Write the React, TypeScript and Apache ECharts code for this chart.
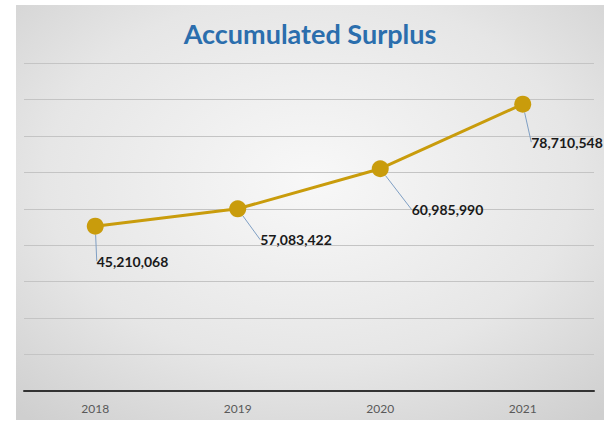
import React, { useEffect, useRef } from "react";
import * as echarts from "echarts";

const years = ["2018", "2019", "2020", "2021"];
// plotted positions (2019 point sits on the 50M gridline)
const plotted = [45210068, 50000000, 60985990, 78710548];
const labelTexts = ["45,210,068", "57,083,422", "60,985,990", "78,710,548"];
const labelShift = [
  [-12, 35],
  [9, 31],
  [18, 41],
  [-5, 38],
];

export default function App() {
  const ref = useRef<HTMLDivElement>(null);
  useEffect(() => {
    document.body.style.margin = "0";
    const chart = echarts.init(ref.current!, null, { renderer: "svg" });
    chart.setOption({
      animation: false,
      backgroundColor: new echarts.graphic.RadialGradient(0.5, 0.42, 0.75, [
        { offset: 0, color: "#f8f8f8" },
        { offset: 0.6, color: "#e6e6e6" },
        { offset: 1, color: "#cfcfcf" },
      ]),
      title: {
        text: "Accumulated Surplus",
        left: "center",
        top: 10,
        textStyle: {
          fontFamily: "Lato",
          fontWeight: "bold",
          fontSize: 27,
          color: "#2b6ead",
        },
      },
      grid: { left: 8, right: 10, top: 58, bottom: 29 },
      xAxis: {
        type: "category",
        data: years,
        boundaryGap: true,
        axisLine: { lineStyle: { color: "#333333", width: 2 } },
        axisTick: { show: false },
        axisLabel: {
          color: "#595959",
          fontFamily: "Lato",
          fontSize: 12,
          margin: 11,
        },
      },
      yAxis: {
        type: "value",
        min: 0,
        max: 90000000,
        interval: 10000000,
        axisLabel: { show: false },
        axisLine: { show: false },
        axisTick: { show: false },
        splitLine: { lineStyle: { color: "#c4c4c4", width: 1 } },
      },
      series: [
        {
          type: "line",
          data: plotted,
          symbol: "circle",
          symbolSize: 17,
          itemStyle: { color: "#c99c0c" },
          lineStyle: { color: "#c99c0c", width: 3 },
          label: {
            show: true,
            position: "right",
            distance: 5,
            formatter: (p: any) => labelTexts[p.dataIndex],
            fontFamily: "Lato",
            fontWeight: "bold",
            fontSize: 14,
            color: "#1a1a1a",
          },
          labelLine: {
            show: true,
            lineStyle: { color: "#7f9fc4", width: 1 },
          },
          labelLayout: (p: any) => ({
            dx: labelShift[p.dataIndex][0],
            dy: labelShift[p.dataIndex][1],
          }),
        },
      ],
    });
    return () => chart.dispose();
  }, []);
  return (
    <div style={{ position: "relative", width: 613, height: 424, background: "#fff" }}>
      <div
        ref={ref}
        style={{ position: "absolute", left: 16, top: 5, width: 588, height: 415 }}
      />
    </div>
  );
}
